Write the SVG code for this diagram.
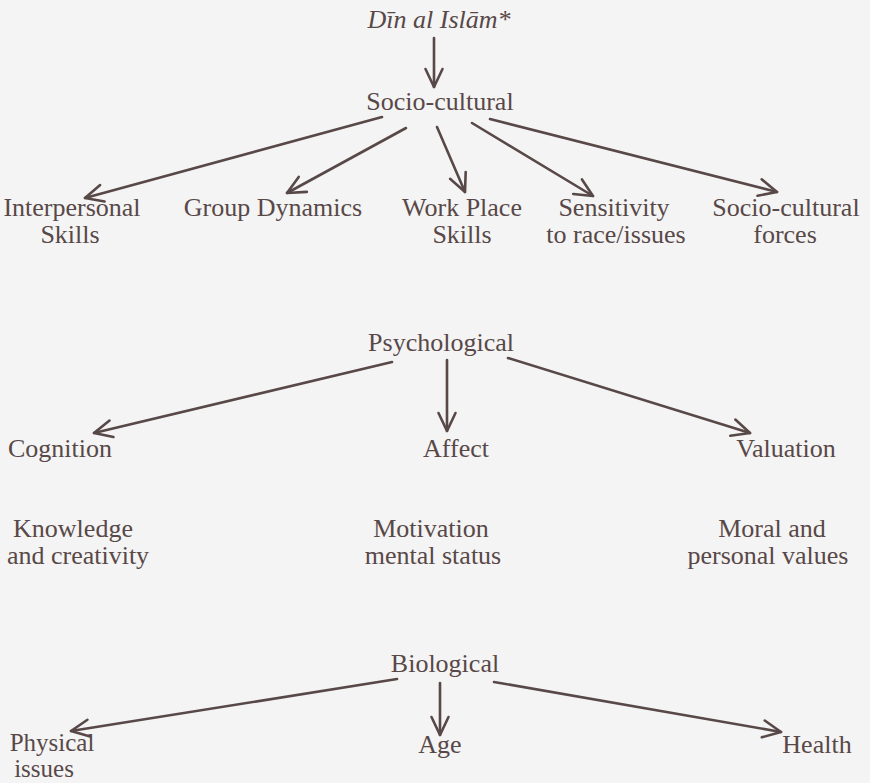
<svg xmlns="http://www.w3.org/2000/svg" width="870" height="783" viewBox="0 0 870 783">
<style>
text{font-family:"Liberation Serif","Times New Roman",serif;font-size:26px;fill:#584848;text-anchor:middle}
.it{font-style:italic}
.sm{font-size:25px}
.c line{stroke:#584848;stroke-width:2.6;stroke-linecap:round;marker-end:url(#ah)}
</style>
<defs>
<marker id="ah" markerUnits="userSpaceOnUse" viewBox="-22 -12 26 24" refX="0" refY="0" markerWidth="26" markerHeight="24" orient="auto">
<path d="M-18,-8.5 L0,0 L-18,8.5" fill="none" stroke="#584848" stroke-width="2.6" stroke-linecap="round" stroke-linejoin="round"/>
</marker>
</defs>
<rect width="870" height="783" fill="#f4f4f4"/>
<g class="c" id="connectors">
<line x1="434" y1="38" x2="434" y2="87"/>
<line x1="382" y1="117" x2="85" y2="198"/>
<line x1="406" y1="128" x2="287" y2="193"/>
<line x1="437" y1="127" x2="465" y2="192"/>
<line x1="472" y1="123" x2="593" y2="196"/>
<line x1="490" y1="119" x2="777" y2="192"/>
<line x1="392" y1="362" x2="94" y2="433"/>
<line x1="447" y1="360" x2="447" y2="431"/>
<line x1="508" y1="358" x2="750" y2="433"/>
<line x1="397" y1="679" x2="71" y2="731"/>
<line x1="440" y1="683" x2="440" y2="735"/>
<line x1="494" y1="682" x2="781" y2="732"/>
</g>
<g id="din"><text class="it" x="439" y="28">Dīn al Islām*</text></g>
<g id="socio"><text x="440" y="110">Socio-cultural</text></g>
<g id="interpersonal"><text x="72" y="216">Interpersonal</text><text x="70" y="243">Skills</text></g>
<g id="group"><text x="273" y="216">Group Dynamics</text></g>
<g id="workplace"><text x="462" y="216">Work Place</text><text x="462" y="243">Skills</text></g>
<g id="sensitivity"><text x="614" y="216">Sensitivity</text><text x="616" y="243">to race/issues</text></g>
<g id="forces"><text x="786" y="216">Socio-cultural</text><text x="785" y="243">forces</text></g>
<g id="psych"><text x="441" y="351">Psychological</text></g>
<g id="cognition"><text x="60" y="457">Cognition</text></g>
<g id="affect"><text x="456" y="457">Affect</text></g>
<g id="valuation"><text x="786" y="457">Valuation</text></g>
<g id="knowledge"><text x="73" y="537">Knowledge</text><text x="78" y="564">and creativity</text></g>
<g id="motivation"><text x="431" y="537">Motivation</text><text x="433" y="564">mental status</text></g>
<g id="moral"><text x="772" y="537">Moral and</text><text x="768" y="564">personal values</text></g>
<g id="bio"><text x="445" y="672">Biological</text></g>
<g id="physical"><text class="sm" x="52" y="751">Physical</text><text class="sm" x="44" y="777">issues</text></g>
<g id="age"><text x="440" y="753">Age</text></g>
<g id="health"><text x="817" y="753">Health</text></g>
</svg>
